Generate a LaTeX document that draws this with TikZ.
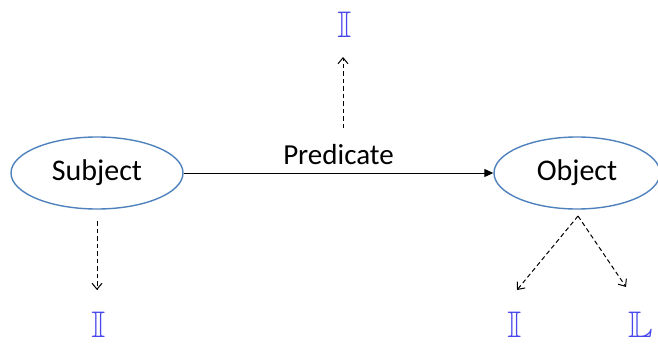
\documentclass[tikz,border=0pt]{standalone}
\usepackage{amssymb}
\usepackage{fontspec}
\setmainfont{Carlito}
\usetikzlibrary{arrows.meta,shapes.geometric}
\definecolor{ellblue}{RGB}{79,129,189}
\definecolor{symblue}{RGB}{70,70,235}
\tikzset{
  entity/.style={ellipse, draw=ellblue, line width=1.4pt, minimum width=172pt, minimum height=72pt, inner sep=0pt, font=\fontsize{30}{30}\selectfont},
  dasharrow/.style={dash pattern=on 4.5pt off 3pt, line width=1pt, -{Straight Barb[length=6pt,width=10pt]}},
  sym/.style={text=symblue, inner sep=0pt, font=\fontsize{37}{37}\selectfont}
}
\begin{document}
\begin{tikzpicture}[x=1pt,y=-1pt]
\useasboundingbox (0,0) rectangle (658,343);
\node[entity] (subj) at (97,173) {Subject};
\node[entity, minimum width=166pt] (obj) at (577,173) {Object};
\draw[line width=1pt, -{Triangle[length=9pt,width=8pt]}] (subj.east) -- (obj.west) node[midway, above=4pt, font=\fontsize{29}{29}\selectfont] (pred) {Predicate};
\coordinate (ptop) at (343,128);
\node[sym] (s1) at (345,25) {$\mathbb{I}$};
\draw[dasharrow] (ptop) -- (343,57);
\node[sym] (s2) at (99,325) {$\mathbb{I}$};
\draw[dasharrow] (97,221) -- (97,290);
\node[sym] (s3) at (515,325) {$\mathbb{I}$};
\node[sym] (s4) at (641,325) {$\mathbb{L}$};
\coordinate (ob) at (578,216);
\draw[dasharrow] (ob) -- (517,290);
\draw[dasharrow] (ob) -- (626,287);
\end{tikzpicture}
\end{document}
